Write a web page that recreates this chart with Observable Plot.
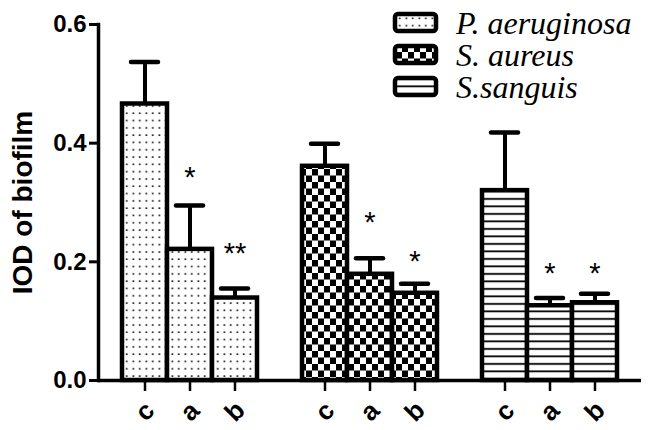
<!DOCTYPE html>
<html><head><meta charset="utf-8">
<script src="https://cdn.jsdelivr.net/npm/d3@7"></script>
<script src="https://cdn.jsdelivr.net/npm/@observablehq/plot@0.6"></script>
<style>body{margin:0;background:#fff} #chart{width:650px;height:430px}
.lgtext{font-family:"Liberation Serif","Times New Roman",serif !important;font-style:italic;font-size:32px;text-anchor:start}</style>
</head><body><div id="chart"></div>
<script>
const species = ["P. aeruginosa", "S. aureus", "S.sanguis"];
const conditions = ["c", "a", "b"];
const meanPA = [0.466, 0.221, 0.139];
const errPA  = [0.071, 0.074, 0.016];
const meanSA = [0.361, 0.179, 0.147];
const errSA  = [0.038, 0.027, 0.016];
const meanSS = [0.320, 0.126, 0.131];
const errSS  = [0.098, 0.013, 0.015];
const sigPA = ["", "*", "**"];
const sigSA = ["", "*", "*"];
const sigSS = ["", "*", "*"];
const sigYPA = [null, 0.354, 0.225];
const sigYSA = [null, 0.278, 0.212];
const sigYSS = [null, 0.191, 0.191];
const yTicks = [0, 0.2, 0.4, 0.6];
const yLabel = "IOD of biofilm";
const patternIds = ["dots", "checks", "stripes"];

const means = [meanPA, meanSA, meanSS];
const errs = [errPA, errSA, errSS];
const sigs = [sigPA, sigSA, sigSS];
const sigYs = [sigYPA, sigYSA, sigYSS];

const rows = [];
species.forEach((s, i) => conditions.forEach((c, j) => rows.push({
  species: s, si: i, cond: c, key: s + "|" + c,
  mean: means[i][j], err: errs[i][j], sig: sigs[i][j], sigY: sigYs[i][j]
})));
const xDomain = [];
species.forEach((s, i) => {
  conditions.forEach(c => xDomain.push(s + "|" + c));
  if (i < species.length - 1) xDomain.push("gap" + i);
});
const barKeys = rows.map(d => d.key);

const barMarks = species.map((s, i) => Plot.barY(rows.filter(d => d.si === i), {
  x: "key", y: "mean", fill: `url(#${patternIds[i]})`, stroke: "black", strokeWidth: 4.5
}));

const chart = Plot.plot({
  width: 650, height: 430,
  marginLeft: 98, marginRight: 9, marginTop: 24, marginBottom: 50,
  style: {fontFamily: "'Liberation Sans', Arial, sans-serif", background: "white", color: "black"},
  x: {type: "band", domain: xDomain, paddingInner: 0, paddingOuter: 0.53},
  y: {domain: [0, 0.6]},
  marks: [
    Plot.ruleX(rows, {x: "key", y1: "mean", y2: d => d.mean + d.err, strokeWidth: 4}),
    Plot.tickY(rows, {x: "key", y: d => d.mean + d.err, insetLeft: 9, insetRight: 9, strokeWidth: 4.5, strokeLinecap: "round"}),
    ...barMarks,
    Plot.text(rows.filter(d => d.sig), {x: "key", y: "sigY", text: "sig", fontSize: 29, dy: 7, lineAnchor: "middle"}),
    Plot.axisX(barKeys, {tickSize: 11, tickFormat: () => "", strokeWidth: 2.5, label: null}),
    Plot.text(rows, {x: "key", text: "cond", frameAnchor: "bottom", dy: 31, rotate: -45, fontSize: 26, fontWeight: "bold", textAnchor: "middle", lineAnchor: "middle"}),
    Plot.axisY(yTicks, {tickFormat: d3.format(".1f"), tickSize: 9, tickPadding: 3, fontSize: 24, fontWeight: "bold", strokeWidth: 3, label: null}),
    Plot.text([yLabel], {frameAnchor: "left", dx: -75, rotate: -90, fontSize: 28, fontWeight: "bold", textAnchor: "middle", lineAnchor: "middle"}),
    Plot.ruleY([0], {strokeWidth: 3.5}),
    Plot.frame({anchor: "left", strokeWidth: 3.5})
  ]
});

const svg = d3.select(chart);
const defs = svg.insert("defs", ":first-child");
const pd = defs.append("pattern").attr("id", "dots").attr("patternUnits", "userSpaceOnUse").attr("width", 6.5).attr("height", 7.3);
pd.append("rect").attr("width", 6.5).attr("height", 7.3).attr("fill", "white");
pd.append("rect").attr("x", 2.5).attr("y", 3).attr("width", 1.6).attr("height", 1.6).attr("fill", "black");
const pc = defs.append("pattern").attr("id", "checks").attr("patternUnits", "userSpaceOnUse").attr("width", 12).attr("height", 13);
pc.append("rect").attr("width", 12).attr("height", 13).attr("fill", "white");
pc.append("rect").attr("width", 6).attr("height", 6.5).attr("fill", "black");
pc.append("rect").attr("x", 6).attr("y", 6.5).attr("width", 6).attr("height", 6.5).attr("fill", "black");
const ps = defs.append("pattern").attr("id", "stripes").attr("patternUnits", "userSpaceOnUse").attr("width", 8).attr("height", 7.5);
ps.append("rect").attr("width", 8).attr("height", 7.5).attr("fill", "white");
ps.append("rect").attr("y", 3).attr("width", 8).attr("height", 1.8).attr("fill", "black");

const lg = svg.append("g");
species.forEach((s, i) => {
  lg.append("rect").attr("x", 395).attr("y", 14 + i * 32).attr("width", 41).attr("height", 17).attr("rx", 3)
    .attr("fill", `url(#${patternIds[i]})`).attr("stroke", "black").attr("stroke-width", 4.5);
  lg.append("text").attr("class", "lgtext").attr("x", 456).attr("y", 34 + i * 32).text(s);
});

document.getElementById("chart").appendChild(chart);
</script>
</body></html>
